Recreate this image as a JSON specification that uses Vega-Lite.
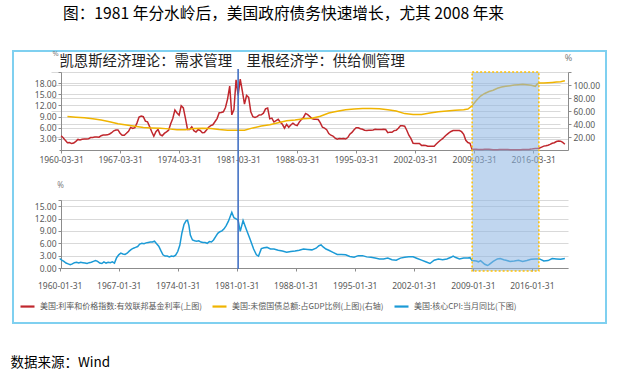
{
  "$schema": "https://vega.github.io/schema/vega-lite/v6.json",
  "width": 593,
  "height": 272,
  "autosize": {"type": "none"},
  "padding": {"left": 13, "top": 51, "right": 22, "bottom": 57},
  "background": "white",
  "title": {"text": "图：1981 年分水岭后，美国政府债务快速增长，尤其 2008 年来", "anchor": "start", "frame": "group", "dx": 50, "offset": 11, "baseline": "bottom", "font": "Noto Sans CJK SC", "fontSize": 15.7, "fontWeight": "normal", "color": "#000000"},
  "config": {
    "view": {"stroke": "#7fd0f0", "strokeWidth": 2},
    "axis": {"labelFont": "Noto Sans", "labelFontSize": 8.5, "labelColor": "#595959", "domainColor": "#8c8c8c", "tickColor": "#8c8c8c", "tickSize": 3, "gridColor": "#d9d9d9", "gridWidth": 1, "titleFont": "Noto Sans", "titleFontSize": 8, "titleColor": "#7f7f7f", "titleFontWeight": "normal", "labelOverlap": false, "labelFlush": false}
  },
  "datasets": {
    "ffr": [
      {"date":"1960-03-31","rate":3.84},{"date":"1960-06-30","rate":3.32},{"date":"1960-09-30","rate":2.60},{"date":"1960-12-31","rate":1.98},
      {"date":"1961-03-31","rate":2.02},{"date":"1961-06-30","rate":1.73},{"date":"1961-09-30","rate":1.88},{"date":"1961-12-31","rate":2.33},
      {"date":"1962-03-31","rate":2.85},{"date":"1962-06-30","rate":2.68},{"date":"1962-09-30","rate":2.90},{"date":"1962-12-31","rate":2.93},
      {"date":"1963-03-31","rate":2.93},{"date":"1963-06-30","rate":2.99},{"date":"1963-09-30","rate":3.34},{"date":"1963-12-31","rate":3.38},
      {"date":"1964-03-31","rate":3.48},{"date":"1964-06-30","rate":3.50},{"date":"1964-09-30","rate":3.45},{"date":"1964-12-31","rate":3.85},
      {"date":"1965-03-31","rate":4.04},{"date":"1965-06-30","rate":4.04},{"date":"1965-09-30","rate":4.08},{"date":"1965-12-31","rate":4.32},
      {"date":"1966-03-31","rate":4.65},{"date":"1966-06-30","rate":5.17},{"date":"1966-09-30","rate":5.40},{"date":"1966-12-31","rate":5.40},
      {"date":"1967-03-31","rate":4.53},{"date":"1967-06-30","rate":3.98},{"date":"1967-09-30","rate":3.99},{"date":"1967-12-31","rate":4.51},
      {"date":"1968-03-31","rate":5.05},{"date":"1968-06-30","rate":6.07},{"date":"1968-09-30","rate":5.78},{"date":"1968-12-31","rate":6.02},
      {"date":"1969-03-31","rate":7.24},{"date":"1969-06-30","rate":8.90},{"date":"1969-09-30","rate":9.15},{"date":"1969-12-31","rate":8.97},
      {"date":"1970-03-31","rate":7.76},{"date":"1970-06-30","rate":7.60},{"date":"1970-09-30","rate":6.29},{"date":"1970-12-31","rate":4.90},
      {"date":"1971-03-31","rate":3.71},{"date":"1971-06-30","rate":4.91},{"date":"1971-09-30","rate":5.55},{"date":"1971-12-31","rate":4.14},
      {"date":"1972-03-31","rate":3.83},{"date":"1972-06-30","rate":4.46},{"date":"1972-09-30","rate":4.87},{"date":"1972-12-31","rate":5.33},
      {"date":"1973-03-31","rate":7.09},{"date":"1973-06-30","rate":8.49},{"date":"1973-09-30","rate":10.78},{"date":"1973-12-31","rate":9.95},
      {"date":"1974-03-31","rate":9.35},{"date":"1974-06-30","rate":11.93},{"date":"1974-09-30","rate":11.34},{"date":"1974-12-31","rate":8.53},
      {"date":"1975-03-31","rate":5.54},{"date":"1975-06-30","rate":5.55},{"date":"1975-09-30","rate":6.24},{"date":"1975-12-31","rate":5.20},
      {"date":"1976-03-31","rate":4.84},{"date":"1976-06-30","rate":5.48},{"date":"1976-09-30","rate":5.25},{"date":"1976-12-31","rate":4.65},
      {"date":"1977-03-31","rate":4.69},{"date":"1977-06-30","rate":5.39},{"date":"1977-09-30","rate":6.14},{"date":"1977-12-31","rate":6.56},
      {"date":"1978-03-31","rate":6.79},{"date":"1978-06-30","rate":7.60},{"date":"1978-09-30","rate":8.45},{"date":"1978-12-31","rate":10.03},
      {"date":"1979-03-31","rate":10.09},{"date":"1979-06-30","rate":10.29},{"date":"1979-09-30","rate":11.43},{"date":"1979-12-31","rate":13.78},
      {"date":"1980-03-31","rate":17.19},{"date":"1980-06-30","rate":9.47},{"date":"1980-09-30","rate":10.87},{"date":"1980-12-31","rate":18.90},
      {"date":"1981-03-31","rate":14.70},{"date":"1981-06-30","rate":19.10},{"date":"1981-09-30","rate":15.87},{"date":"1981-12-31","rate":12.37},
      {"date":"1982-03-31","rate":14.68},{"date":"1982-06-30","rate":14.15},{"date":"1982-09-30","rate":10.31},{"date":"1982-12-31","rate":8.95},
      {"date":"1983-03-31","rate":8.77},{"date":"1983-06-30","rate":8.98},{"date":"1983-09-30","rate":9.45},{"date":"1983-12-31","rate":9.47},
      {"date":"1984-03-31","rate":9.91},{"date":"1984-06-30","rate":11.06},{"date":"1984-09-30","rate":11.30},{"date":"1984-12-31","rate":8.38},
      {"date":"1985-03-31","rate":8.58},{"date":"1985-06-30","rate":7.53},{"date":"1985-09-30","rate":7.92},{"date":"1985-12-31","rate":8.27},
      {"date":"1986-03-31","rate":7.48},{"date":"1986-06-30","rate":6.92},{"date":"1986-09-30","rate":5.89},{"date":"1986-12-31","rate":6.91},
      {"date":"1987-03-31","rate":6.13},{"date":"1987-06-30","rate":6.73},{"date":"1987-09-30","rate":7.22},{"date":"1987-12-31","rate":6.77},
      {"date":"1988-03-31","rate":6.58},{"date":"1988-06-30","rate":7.51},{"date":"1988-09-30","rate":8.19},{"date":"1988-12-31","rate":8.76},
      {"date":"1989-03-31","rate":9.85},{"date":"1989-06-30","rate":9.53},{"date":"1989-09-30","rate":9.02},{"date":"1989-12-31","rate":8.45},
      {"date":"1990-03-31","rate":8.28},{"date":"1990-06-30","rate":8.29},{"date":"1990-09-30","rate":8.20},{"date":"1990-12-31","rate":7.31},
      {"date":"1991-03-31","rate":6.12},{"date":"1991-06-30","rate":5.90},{"date":"1991-09-30","rate":5.45},{"date":"1991-12-31","rate":4.43},
      {"date":"1992-03-31","rate":3.98},{"date":"1992-06-30","rate":3.76},{"date":"1992-09-30","rate":3.22},{"date":"1992-12-31","rate":2.92},
      {"date":"1993-03-31","rate":3.07},{"date":"1993-06-30","rate":3.04},{"date":"1993-09-30","rate":3.09},{"date":"1993-12-31","rate":2.96},
      {"date":"1994-03-31","rate":3.34},{"date":"1994-06-30","rate":4.25},{"date":"1994-09-30","rate":4.73},{"date":"1994-12-31","rate":5.45},
      {"date":"1995-03-31","rate":5.98},{"date":"1995-06-30","rate":6.00},{"date":"1995-09-30","rate":5.74},{"date":"1995-12-31","rate":5.60},
      {"date":"1996-03-31","rate":5.34},{"date":"1996-06-30","rate":5.27},{"date":"1996-09-30","rate":5.30},{"date":"1996-12-31","rate":5.29},
      {"date":"1997-03-31","rate":5.39},{"date":"1997-06-30","rate":5.56},{"date":"1997-09-30","rate":5.54},{"date":"1997-12-31","rate":5.50},
      {"date":"1998-03-31","rate":5.49},{"date":"1998-06-30","rate":5.56},{"date":"1998-09-30","rate":5.51},{"date":"1998-12-31","rate":4.68},
      {"date":"1999-03-31","rate":4.81},{"date":"1999-06-30","rate":4.76},{"date":"1999-09-30","rate":5.22},{"date":"1999-12-31","rate":5.30},
      {"date":"2000-03-31","rate":5.85},{"date":"2000-06-30","rate":6.53},{"date":"2000-09-30","rate":6.52},{"date":"2000-12-31","rate":6.40},
      {"date":"2001-03-31","rate":5.31},{"date":"2001-06-30","rate":3.97},{"date":"2001-09-30","rate":3.07},{"date":"2001-12-31","rate":1.82},
      {"date":"2002-03-31","rate":1.73},{"date":"2002-06-30","rate":1.75},{"date":"2002-09-30","rate":1.75},{"date":"2002-12-31","rate":1.24},
      {"date":"2003-03-31","rate":1.25},{"date":"2003-06-30","rate":1.22},{"date":"2003-09-30","rate":1.01},{"date":"2003-12-31","rate":0.98},
      {"date":"2004-03-31","rate":1.00},{"date":"2004-06-30","rate":1.03},{"date":"2004-09-30","rate":1.61},{"date":"2004-12-31","rate":2.16},
      {"date":"2005-03-31","rate":2.63},{"date":"2005-06-30","rate":3.04},{"date":"2005-09-30","rate":3.62},{"date":"2005-12-31","rate":4.16},
      {"date":"2006-03-31","rate":4.59},{"date":"2006-06-30","rate":4.99},{"date":"2006-09-30","rate":5.25},{"date":"2006-12-31","rate":5.24},
      {"date":"2007-03-31","rate":5.26},{"date":"2007-06-30","rate":5.25},{"date":"2007-09-30","rate":4.94},{"date":"2007-12-31","rate":4.24},
      {"date":"2008-03-31","rate":2.61},{"date":"2008-06-30","rate":2.00},{"date":"2008-09-30","rate":1.81},{"date":"2008-12-31","rate":0.16},
      {"date":"2009-03-31","rate":0.18},{"date":"2009-06-30","rate":0.21},{"date":"2009-09-30","rate":0.15},{"date":"2009-12-31","rate":0.12},
      {"date":"2010-03-31","rate":0.16},{"date":"2010-06-30","rate":0.18},{"date":"2010-09-30","rate":0.19},{"date":"2010-12-31","rate":0.18},
      {"date":"2011-03-31","rate":0.14},{"date":"2011-06-30","rate":0.09},{"date":"2011-09-30","rate":0.08},{"date":"2011-12-31","rate":0.07},
      {"date":"2012-03-31","rate":0.13},{"date":"2012-06-30","rate":0.16},{"date":"2012-09-30","rate":0.14},{"date":"2012-12-31","rate":0.16},
      {"date":"2013-03-31","rate":0.14},{"date":"2013-06-30","rate":0.09},{"date":"2013-09-30","rate":0.08},{"date":"2013-12-31","rate":0.09},
      {"date":"2014-03-31","rate":0.08},{"date":"2014-06-30","rate":0.10},{"date":"2014-09-30","rate":0.09},{"date":"2014-12-31","rate":0.12},
      {"date":"2015-03-31","rate":0.11},{"date":"2015-06-30","rate":0.13},{"date":"2015-09-30","rate":0.14},{"date":"2015-12-31","rate":0.24},
      {"date":"2016-03-31","rate":0.36},{"date":"2016-06-30","rate":0.38},{"date":"2016-09-30","rate":0.40},{"date":"2016-12-31","rate":0.54},
      {"date":"2017-03-31","rate":0.79},{"date":"2017-06-30","rate":1.04},{"date":"2017-09-30","rate":1.15},{"date":"2017-12-31","rate":1.30},
      {"date":"2018-03-31","rate":1.51},{"date":"2018-06-30","rate":1.82},{"date":"2018-09-30","rate":1.95},{"date":"2018-12-31","rate":2.27},
      {"date":"2019-03-31","rate":2.41},{"date":"2019-06-30","rate":2.38},{"date":"2019-09-30","rate":2.04},{"date":"2019-12-31","rate":1.55}
    ],
    "debt": [
      {"date":"1960-12-31","ratio":51.5},{"date":"1961-12-31","ratio":50.5},{"date":"1962-12-31","ratio":49.5},{"date":"1963-12-31","ratio":48},
      {"date":"1964-12-31","ratio":46},{"date":"1965-12-31","ratio":43.5},{"date":"1966-12-31","ratio":40.5},{"date":"1967-12-31","ratio":38.5},
      {"date":"1968-12-31","ratio":36.5},{"date":"1969-12-31","ratio":34.5},{"date":"1970-12-31","ratio":34},{"date":"1971-12-31","ratio":33.5},
      {"date":"1972-12-31","ratio":32.5},{"date":"1973-12-31","ratio":31},{"date":"1974-12-31","ratio":31},{"date":"1975-12-31","ratio":33},
      {"date":"1976-12-31","ratio":33.5},{"date":"1977-12-31","ratio":33},{"date":"1978-12-31","ratio":31.5},{"date":"1979-12-31","ratio":30.5},
      {"date":"1980-12-31","ratio":30.5},{"date":"1981-12-31","ratio":30.5},{"date":"1982-12-31","ratio":34},{"date":"1983-12-31","ratio":37},
      {"date":"1984-12-31","ratio":39},{"date":"1985-12-31","ratio":42},{"date":"1986-12-31","ratio":45},{"date":"1987-12-31","ratio":46},
      {"date":"1988-12-31","ratio":48},{"date":"1989-12-31","ratio":49},{"date":"1990-12-31","ratio":52},{"date":"1991-12-31","ratio":57},
      {"date":"1992-12-31","ratio":59.5},{"date":"1993-12-31","ratio":62},{"date":"1994-12-31","ratio":63},{"date":"1995-12-31","ratio":64},
      {"date":"1996-12-31","ratio":64},{"date":"1997-12-31","ratio":63.5},{"date":"1998-12-31","ratio":62},{"date":"1999-12-31","ratio":60},
      {"date":"2000-12-31","ratio":56},{"date":"2001-12-31","ratio":54.5},{"date":"2002-12-31","ratio":54.5},{"date":"2003-12-31","ratio":57},
      {"date":"2004-12-31","ratio":59},{"date":"2005-12-31","ratio":60},{"date":"2006-12-31","ratio":61},{"date":"2007-12-31","ratio":62},
      {"date":"2008-06-30","ratio":63},{"date":"2008-12-31","ratio":68},{"date":"2009-06-30","ratio":76},{"date":"2009-12-31","ratio":83},
      {"date":"2010-06-30","ratio":87},{"date":"2010-12-31","ratio":90},{"date":"2011-06-30","ratio":92},{"date":"2011-12-31","ratio":95},
      {"date":"2012-06-30","ratio":97},{"date":"2012-12-31","ratio":98},{"date":"2013-06-30","ratio":99},{"date":"2013-12-31","ratio":100},
      {"date":"2014-06-30","ratio":100.5},{"date":"2014-12-31","ratio":101},{"date":"2015-06-30","ratio":100.5},{"date":"2015-12-31","ratio":99.5},
      {"date":"2016-06-30","ratio":98},{"date":"2016-09-30","ratio":102},{"date":"2016-12-31","ratio":103},{"date":"2017-06-30","ratio":103},
      {"date":"2017-12-31","ratio":103.5},{"date":"2018-06-30","ratio":104},{"date":"2018-12-31","ratio":104.5},{"date":"2019-06-30","ratio":105},
      {"date":"2019-12-31","ratio":106.5}
    ],
    "cpi": [
      {"date":"1960-01-31","cpi":2.3},{"date":"1960-04-30","cpi":1.9},{"date":"1960-07-31","cpi":1.6},{"date":"1960-10-31","cpi":1.2},
      {"date":"1961-01-31","cpi":1.0},{"date":"1961-04-30","cpi":0.8},{"date":"1961-07-31","cpi":1.0},{"date":"1961-10-31","cpi":1.3},
      {"date":"1962-01-31","cpi":1.4},{"date":"1962-04-30","cpi":1.2},{"date":"1962-07-31","cpi":1.4},{"date":"1962-10-31","cpi":1.3},
      {"date":"1963-01-31","cpi":1.2},{"date":"1963-04-30","cpi":1.1},{"date":"1963-07-31","cpi":1.3},{"date":"1963-10-31","cpi":1.4},
      {"date":"1964-01-31","cpi":1.6},{"date":"1964-04-30","cpi":1.8},{"date":"1964-07-31","cpi":1.6},{"date":"1964-10-31","cpi":1.2},
      {"date":"1965-01-31","cpi":1.1},{"date":"1965-04-30","cpi":1.5},{"date":"1965-07-31","cpi":1.2},{"date":"1965-10-31","cpi":1.4},
      {"date":"1966-01-31","cpi":1.3},{"date":"1966-04-30","cpi":1.5},{"date":"1966-07-31","cpi":1.2},{"date":"1966-10-31","cpi":2.5},
      {"date":"1967-01-31","cpi":3.2},{"date":"1967-04-30","cpi":3.6},{"date":"1967-07-31","cpi":3.4},{"date":"1967-10-31","cpi":3.3},
      {"date":"1968-01-31","cpi":3.6},{"date":"1968-04-30","cpi":4.1},{"date":"1968-07-31","cpi":4.5},{"date":"1968-10-31","cpi":4.8},
      {"date":"1969-01-31","cpi":5.0},{"date":"1969-04-30","cpi":5.2},{"date":"1969-07-31","cpi":5.8},{"date":"1969-10-31","cpi":6.0},
      {"date":"1970-01-31","cpi":5.9},{"date":"1970-04-30","cpi":6.1},{"date":"1970-07-31","cpi":6.2},{"date":"1970-10-31","cpi":6.3},
      {"date":"1971-01-31","cpi":6.3},{"date":"1971-04-30","cpi":6.5},{"date":"1971-07-31","cpi":5.9},{"date":"1971-10-31","cpi":5.3},
      {"date":"1972-01-31","cpi":4.2},{"date":"1972-04-30","cpi":3.2},{"date":"1972-07-31","cpi":2.9},{"date":"1972-10-31","cpi":2.9},
      {"date":"1973-01-31","cpi":2.7},{"date":"1973-04-30","cpi":2.9},{"date":"1973-07-31","cpi":2.8},{"date":"1973-10-31","cpi":3.1},
      {"date":"1974-01-31","cpi":4.0},{"date":"1974-04-30","cpi":5.5},{"date":"1974-07-31","cpi":8.5},{"date":"1974-10-31","cpi":10.6},
      {"date":"1975-01-31","cpi":11.5},{"date":"1975-03-31","cpi":11.6},{"date":"1975-05-31","cpi":10.3},{"date":"1975-07-31","cpi":8.0},
      {"date":"1975-10-31","cpi":6.8},{"date":"1976-01-31","cpi":6.6},{"date":"1976-04-30","cpi":6.5},{"date":"1976-07-31","cpi":6.6},
      {"date":"1976-10-31","cpi":6.3},{"date":"1977-01-31","cpi":6.2},{"date":"1977-04-30","cpi":6.2},{"date":"1977-07-31","cpi":6.0},
      {"date":"1977-10-31","cpi":6.4},{"date":"1978-01-31","cpi":6.3},{"date":"1978-04-30","cpi":6.8},{"date":"1978-07-31","cpi":7.6},
      {"date":"1978-10-31","cpi":8.4},{"date":"1979-01-31","cpi":8.8},{"date":"1979-04-30","cpi":9.0},{"date":"1979-07-31","cpi":9.5},
      {"date":"1979-10-31","cpi":10.3},{"date":"1980-01-31","cpi":11.3},{"date":"1980-04-30","cpi":12.6},{"date":"1980-06-30","cpi":13.5},
      {"date":"1980-09-30","cpi":12.2},{"date":"1980-12-31","cpi":11.9},{"date":"1981-03-31","cpi":11.6},{"date":"1981-06-30","cpi":8.9},
      {"date":"1981-10-31","cpi":11.5},{"date":"1982-03-31","cpi":9.2},{"date":"1982-08-31","cpi":7.0},{"date":"1983-01-31","cpi":4.6},
      {"date":"1983-05-31","cpi":3.2},{"date":"1983-08-31","cpi":2.9},{"date":"1983-12-31","cpi":4.7},{"date":"1984-04-30","cpi":4.9},
      {"date":"1984-08-31","cpi":5.0},{"date":"1985-01-31","cpi":4.6},{"date":"1985-06-30","cpi":4.6},{"date":"1985-12-31","cpi":4.3},
      {"date":"1986-06-30","cpi":4.1},{"date":"1986-12-31","cpi":3.8},{"date":"1987-06-30","cpi":4.0},{"date":"1987-12-31","cpi":4.1},
      {"date":"1988-06-30","cpi":4.3},{"date":"1988-12-31","cpi":4.6},{"date":"1989-06-30","cpi":4.5},{"date":"1989-12-31","cpi":4.4},
      {"date":"1990-06-30","cpi":4.8},{"date":"1990-10-31","cpi":5.4},{"date":"1991-01-31","cpi":5.6},{"date":"1991-04-30","cpi":5.1},
      {"date":"1991-08-31","cpi":4.6},{"date":"1991-12-31","cpi":4.3},{"date":"1992-06-30","cpi":3.8},{"date":"1992-12-31","cpi":3.3},
      {"date":"1993-06-30","cpi":3.3},{"date":"1993-12-31","cpi":3.2},{"date":"1994-06-30","cpi":2.8},{"date":"1994-12-31","cpi":2.6},
      {"date":"1995-06-30","cpi":3.0},{"date":"1995-12-31","cpi":3.0},{"date":"1996-06-30","cpi":2.7},{"date":"1996-12-31","cpi":2.6},
      {"date":"1997-06-30","cpi":2.4},{"date":"1997-12-31","cpi":2.2},{"date":"1998-06-30","cpi":2.2},{"date":"1998-12-31","cpi":2.4},
      {"date":"1999-06-30","cpi":2.0},{"date":"1999-12-31","cpi":1.9},{"date":"2000-06-30","cpi":2.4},{"date":"2000-12-31","cpi":2.6},
      {"date":"2001-06-30","cpi":2.7},{"date":"2001-12-31","cpi":2.7},{"date":"2002-06-30","cpi":2.3},{"date":"2002-12-31","cpi":1.9},
      {"date":"2003-06-30","cpi":1.5},{"date":"2003-12-31","cpi":1.1},{"date":"2004-06-30","cpi":1.9},{"date":"2004-12-31","cpi":2.2},
      {"date":"2005-06-30","cpi":2.0},{"date":"2005-12-31","cpi":2.2},{"date":"2006-06-30","cpi":2.6},{"date":"2006-09-30","cpi":2.9},
      {"date":"2006-12-31","cpi":2.6},{"date":"2007-06-30","cpi":2.2},{"date":"2007-12-31","cpi":2.4},{"date":"2008-06-30","cpi":2.4},
      {"date":"2008-09-30","cpi":2.5},{"date":"2008-12-31","cpi":1.8},{"date":"2009-06-30","cpi":1.7},{"date":"2009-09-30","cpi":1.5},
      {"date":"2009-12-31","cpi":1.8},{"date":"2010-06-30","cpi":0.9},{"date":"2010-10-31","cpi":0.6},{"date":"2010-12-31","cpi":0.8},
      {"date":"2011-06-30","cpi":1.6},{"date":"2011-12-31","cpi":2.2},{"date":"2012-04-30","cpi":2.3},{"date":"2012-09-30","cpi":2.0},
      {"date":"2012-12-31","cpi":1.9},{"date":"2013-06-30","cpi":1.6},{"date":"2013-12-31","cpi":1.7},{"date":"2014-06-30","cpi":1.9},
      {"date":"2014-12-31","cpi":1.6},{"date":"2015-06-30","cpi":1.8},{"date":"2015-12-31","cpi":2.1},{"date":"2016-06-30","cpi":2.2},
      {"date":"2016-12-31","cpi":2.2},{"date":"2017-06-30","cpi":1.7},{"date":"2017-12-31","cpi":1.8},{"date":"2018-06-30","cpi":2.3},
      {"date":"2018-12-31","cpi":2.2},{"date":"2019-06-30","cpi":2.1},{"date":"2019-12-31","cpi":2.3}
    ],
    "note": [{"label": "凯恩斯经济理论：需求管理　里根经济学：供给侧管理"}],
    "period": [{"start": "2008-12-31", "end": "2016-11-30"}],
    "pivot": [{"date": "1981-03-31"}]
  },
  "layer": [
    {
      "layer": [
        {
          "data": {"name": "ffr"},
          "mark": {"type": "line", "strokeWidth": 1.5},
          "encoding": {
            "x": {"field": "date", "type": "temporal",
              "scale": {"domain": [{"year": 1960, "month": 1, "date": 1}, {"year": 2020, "month": 5, "date": 15}], "range": [46, 555], "nice": false},
              "axis": {"orient": "bottom", "offset": -173, "title": null, "grid": false, "format": "%Y-%m-%d", "formatType": "time", "labelPadding": 2, "labelFlush": false,
                "values": [{"year":1960,"month":3,"date":31},{"year":1967,"month":3,"date":31},{"year":1974,"month":3,"date":31},{"year":1981,"month":3,"date":31},{"year":1988,"month":3,"date":31},{"year":1995,"month":3,"date":31},{"year":2002,"month":3,"date":31},{"year":2009,"month":3,"date":31},{"year":2016,"month":3,"date":31}]}},
            "y": {"field": "rate", "type": "quantitative",
              "scale": {"domain": [0, 21], "range": [99, 21], "nice": false, "zero": false},
              "axis": {"orient": "left", "offset": -48, "values": [3, 6, 9, 12, 15, 18, 21], "labelExpr": "datum.value > 20 ? '' : format(datum.value, '.2f')", "grid": true,
                "title": "%", "titleAngle": 0, "titleX": -6, "titleY": 2, "titleAlign": "center", "titleBaseline": "middle", "titleFontSize": 7.5}},
            "color": {"datum": "美国:利率和价格指数:有效联邦基金利率(上图)", "type": "nominal",
              "scale": {"domain": ["美国:利率和价格指数:有效联邦基金利率(上图)", "美国:未偿国债总额:占GDP比例(上图)(右轴)", "美国:核心CPI:当月同比(下图)"], "range": ["#c0272d", "#f0b400", "#1b9ad6"]},
              "legend": {"orient": "none", "legendX": 6, "legendY": 247, "direction": "horizontal", "title": null, "symbolType": "stroke", "symbolSize": 196, "symbolStrokeWidth": 2.2, "labelFont": "Noto Sans CJK SC", "labelFontSize": 8, "labelColor": "#595959", "columnPadding": 6, "labelOffset": 4, "labelLimit": 400, "padding": 0}}
          }
        },
        {
          "data": {"name": "note"},
          "mark": {"type": "text", "align": "left", "baseline": "middle", "font": "Noto Sans CJK SC", "fontSize": 14.4, "color": "#222222"},
          "encoding": {
            "x": {"datum": {"year": 1960, "month": 1, "date": 20}, "type": "temporal"},
            "y": {"datum": 23.7, "type": "quantitative"},
            "text": {"field": "label"}
          }
        }
      ]
    },
    {
      "data": {"name": "debt"},
      "mark": {"type": "line", "strokeWidth": 1.5},
      "encoding": {
        "x": {"field": "date", "type": "temporal",
          "scale": {"domain": [{"year": 1960, "month": 1, "date": 1}, {"year": 2020, "month": 5, "date": 15}], "range": [46, 555], "nice": false},
          "axis": null},
        "y": {"field": "ratio", "type": "quantitative",
          "scale": {"domain": [0, 120], "range": [99, 21], "nice": false, "zero": false},
          "axis": {"orient": "right", "offset": -38, "values": [20, 40, 60, 80, 100, 120], "labelExpr": "datum.value > 110 ? '' : format(datum.value, '.2f')", "grid": true,
            "title": "%", "titleAngle": 0, "titleX": 0, "titleY": 6, "titleAlign": "center", "titleBaseline": "middle", "titleFontSize": 9}},
        "color": {"datum": "美国:未偿国债总额:占GDP比例(上图)(右轴)", "type": "nominal"}
      }
    },
    {
      "layer": [
        {
          "data": {"name": "cpi"},
          "mark": {"type": "line", "strokeWidth": 1.5},
          "encoding": {
            "x": {"field": "date", "type": "temporal",
              "scale": {"domain": [{"year": 1960, "month": 1, "date": 1}, {"year": 2020, "month": 5, "date": 15}], "range": [46, 555], "nice": false},
              "axis": {"orient": "bottom", "offset": -55, "grid": false, "format": "%Y-%m-%d", "formatType": "time", "labelPadding": 10, "labelFlush": false,
                "values": [{"year":1960,"month":1,"date":31},{"year":1967,"month":1,"date":31},{"year":1974,"month":1,"date":31},{"year":1981,"month":1,"date":31},{"year":1988,"month":1,"date":31},{"year":1995,"month":1,"date":31},{"year":2002,"month":1,"date":31},{"year":2009,"month":1,"date":31},{"year":2016,"month":1,"date":31}],
                "title": "数据来源：Wind", "titleX": -3, "titleY": 94, "titleAlign": "left", "titleAnchor": "start", "titleBaseline": "middle", "titleFont": "Noto Sans CJK SC", "titleFontSize": 13.5, "titleColor": "#000000", "titleFontWeight": "normal"}},
            "y": {"field": "cpi", "type": "quantitative",
              "scale": {"domain": [0, 16.5], "range": [217, 149], "nice": false, "zero": false},
              "axis": {"orient": "left", "offset": -48, "values": [-2.3, 0, 3, 6, 9, 12, 15, 16.5], "labelExpr": "(datum.value > 16 || datum.value < 0) ? '' : format(datum.value, '.2f')", "grid": true,
                "title": "%", "titleAngle": 0, "titleX": -1, "titleY": 134, "titleAlign": "center", "titleBaseline": "middle", "titleFontSize": 8}},
            "color": {"datum": "美国:核心CPI:当月同比(下图)", "type": "nominal"}
          }
        },
        {
          "data": {"name": "period"},
          "mark": {"type": "rect", "fill": "#8db4e2", "fillOpacity": 0.55, "stroke": "#ffc000", "strokeWidth": 1.5, "strokeDash": [2, 2]},
          "encoding": {
            "x": {"field": "start", "type": "temporal"},
            "x2": {"field": "end"},
            "y": {"datum": 47.56, "type": "quantitative"},
            "y2": {"datum": -0.73}
          }
        },
        {
          "data": {"name": "pivot"},
          "mark": {"type": "rule", "color": "#4472c4", "strokeWidth": 1.6},
          "encoding": {
            "x": {"field": "date", "type": "temporal"},
            "y": {"datum": 48.3, "type": "quantitative"},
            "y2": {"datum": -0.25}
          }
        }
      ]
    }
  ],
  "resolve": {"scale": {"y": "independent"}, "axis": {"x": "independent", "y": "independent"}}
}
